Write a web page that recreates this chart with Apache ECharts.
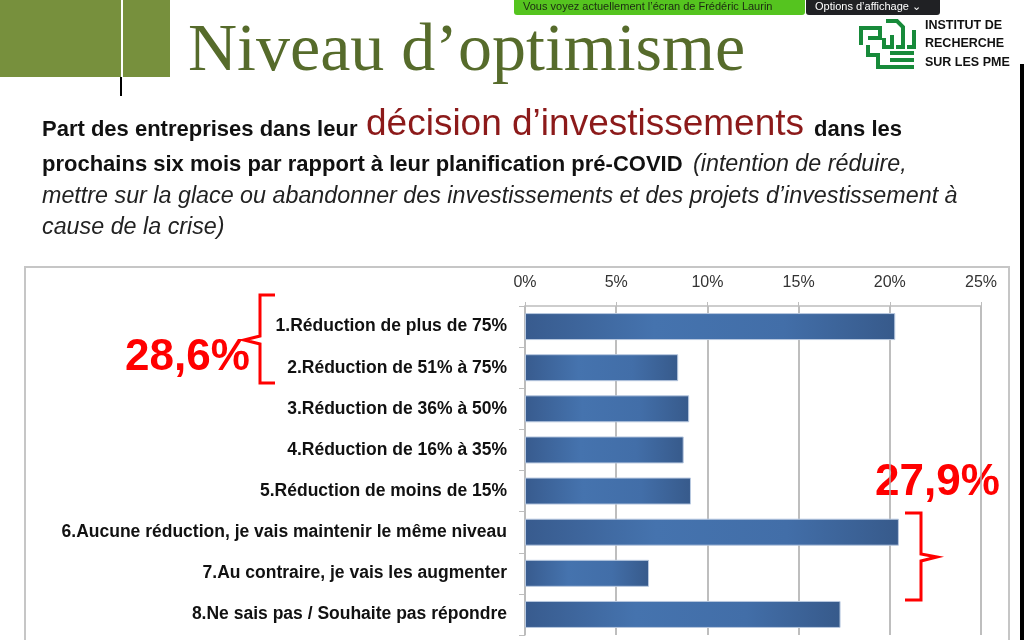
<!DOCTYPE html>
<html>
<head>
<meta charset="utf-8">
<script src="https://cdn.jsdelivr.net/npm/echarts@6/dist/echarts.min.js"></script>
<style>
  html, body { margin: 0; padding: 0; background: #fff; }
  #main { width: 1024px; height: 640px; }
</style>
</head>
<body>
<div id="main"></div>
<script>
// catégories (de haut en bas)
var categories = [
  '1.Réduction de plus de 75%',
  '2.Réduction de 51% à 75%',
  '3.Réduction de 36% à 50%',
  '4.Réduction de 16% à 35%',
  '5.Réduction de moins de 15%',
  '6.Aucune réduction, je vais maintenir le même niveau',
  '7.Au contraire, je vais les augmenter',
  '8.Ne sais pas / Souhaite pas répondre'
]
// part des entreprises (%)
var values = [20.3, 8.4, 9.0, 8.7, 9.1, 20.5, 6.8, 17.3]
// graduations de l'axe
var axisMin = 0
var axisMax = 25
var axisStep = 5
// totaux annotés
var groupTop = '28,6%'
var groupBottom = '27,9%'

var chart = echarts.init(document.getElementById('main'))

var sans = "'Liberation Sans', Arial, sans-serif"
var serif = "'Liberation Serif', 'Times New Roman', serif"
var red = '#ff0000'
var green = '#178a3a'

// dégradé horizontal des barres
var barGradient = new echarts.graphic.LinearGradient(0, 0, 1, 0, [
  { offset: 0, color: '#385b8e' },
  { offset: 0.35, color: '#4573ae' },
  { offset: 0.7, color: '#426ea8' },
  { offset: 1, color: '#375a8b' }
])

function logoLine(points) {
  return { type: 'polyline', shape: { points: points }, style: { stroke: green, lineWidth: 4, fill: null } }
}

var option = {
  animation: false,
  grid: {
    left: 525,
    top: 306,
    width: 456,
    height: 329
  },
  xAxis: {
    type: 'value',
    position: 'top',
    min: axisMin,
    max: axisMax,
    interval: axisStep,
    axisLine: { show: true, lineStyle: { color: '#bdbdbd', width: 1.5 } },
    axisTick: { show: true, length: 4, lineStyle: { color: '#bdbdbd' } },
    splitLine: { show: true, lineStyle: { color: '#a9a9a9', width: 1.5 } },
    axisLabel: {
      formatter: '{value}%',
      color: '#333',
      fontSize: 16,
      fontFamily: sans,
      margin: 15
    }
  },
  yAxis: {
    type: 'category',
    inverse: true,
    data: categories,
    axisLine: { show: true, lineStyle: { color: '#bdbdbd', width: 1.5 } },
    axisTick: { show: true, length: 6, lineStyle: { color: '#bdbdbd' } },
    axisLabel: {
      color: '#111',
      fontSize: 17.5,
      fontWeight: 'bold',
      fontFamily: sans,
      margin: 18
    }
  },
  series: [{
    type: 'bar',
    data: values,
    barWidth: 27,
    itemStyle: {
      color: barGradient,
      borderColor: '#b9c9e0',
      borderWidth: 1
    }
  }],
  graphic: [
    // bandeau vert
    { type: 'rect', shape: { x: 0, y: 0, width: 170, height: 77 }, style: { fill: '#77903d' } },
    { type: 'rect', shape: { x: 121, y: 0, width: 2, height: 77 }, style: { fill: '#fff' } },
    { type: 'rect', shape: { x: 120, y: 77, width: 2, height: 19 }, style: { fill: '#000' } },
    {
      type: 'text', left: 188, top: 18,
      style: { text: 'Niveau d’optimisme', fill: '#566b2b', font: '68px ' + serif }
    },
    // barre de partage d'écran
    { type: 'rect', shape: { x: 514, y: 0, width: 291, height: 15, r: [0, 0, 3, 3] }, style: { fill: '#55c41f' } },
    {
      type: 'text', left: 523, top: 1,
      style: { text: 'Vous voyez actuellement l’écran de Frédéric Laurin', fill: '#1c2a12', font: '11px ' + sans }
    },
    { type: 'rect', shape: { x: 806, y: 0, width: 134, height: 15, r: [0, 0, 3, 3] }, style: { fill: '#202124' } },
    {
      type: 'text', left: 815, top: 1,
      style: { text: 'Options d’affichage ⌄', fill: '#fff', font: '11px ' + sans }
    },
    // logo
    logoLine([[861, 45], [861, 28], [880, 28], [880, 38], [868, 38]]),
    logoLine([[884, 38], [884, 47], [892, 47], [892, 35]]),
    logoLine([[896, 47], [903, 47], [903, 27], [897, 21], [886, 21]]),
    logoLine([[907, 47], [914, 47], [914, 30]]),
    logoLine([[868, 45], [868, 55], [878, 55], [878, 67], [914, 67]]),
    logoLine([[890, 53], [914, 53]]),
    logoLine([[890, 60], [914, 60]]),
    {
      type: 'text', left: 925, top: 16,
      style: { text: 'INSTITUT DE\nRECHERCHE\nSUR LES PME', fill: '#111', font: 'bold 12.5px ' + sans, lineHeight: 18.5 }
    },
    // sous-titre
    {
      type: 'text', left: 42, top: 119,
      style: { text: 'Part des entreprises dans leur', fill: '#111', font: 'bold 22px ' + sans }
    },
    {
      type: 'text', left: 366, top: 106,
      style: { text: 'décision d’investissements', fill: '#8c1a1a', font: '37px ' + sans }
    },
    {
      type: 'text', left: 814, top: 119,
      style: { text: 'dans les', fill: '#111', font: 'bold 22px ' + sans }
    },
    {
      type: 'text', left: 42, top: 154,
      style: { text: 'prochains six mois par rapport à leur planification pré-COVID', fill: '#111', font: 'bold 22px ' + sans }
    },
    {
      type: 'text', left: 693, top: 153,
      style: { text: '(intention de réduire,', fill: '#222', font: 'italic 23.3px ' + sans }
    },
    {
      type: 'text', left: 42, top: 185,
      style: { text: 'mettre sur la glace ou abandonner des investissements et des projets d’investissement à', fill: '#222', font: 'italic 23.3px ' + sans }
    },
    {
      type: 'text', left: 42, top: 216,
      style: { text: 'cause de la crise)', fill: '#222', font: 'italic 23.3px ' + sans }
    },
    // cadre du graphique
    { type: 'rect', shape: { x: 25, y: 267, width: 984, height: 400 }, style: { fill: null, stroke: '#c6c6c6', lineWidth: 2 } },
    { type: 'rect', shape: { x: 1020, y: 64, width: 4, height: 576 }, style: { fill: '#000' } },
    // annotations
    {
      type: 'text', left: 125, top: 336,
      style: { text: groupTop, fill: red, font: 'bold 44px ' + sans }
    },
    { type: 'polyline', shape: { points: [[275, 295], [260, 295], [260, 336], [244, 340], [260, 344], [260, 383], [275, 383]] }, style: { stroke: red, lineWidth: 3, fill: null } },
    {
      type: 'text', left: 875, top: 461,
      style: { text: groupBottom, fill: red, font: 'bold 44px ' + sans }
    },
    { type: 'polyline', shape: { points: [[905, 513], [921, 513], [921, 554], [937, 557], [921, 561], [921, 600], [905, 600]] }, style: { stroke: red, lineWidth: 3, fill: null } }
  ]
}

chart.setOption(option)
</script>
</body>
</html>
